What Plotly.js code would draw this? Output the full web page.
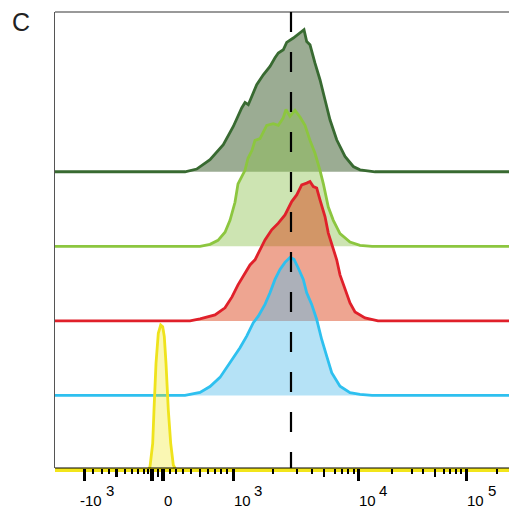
<!DOCTYPE html>
<html><head><meta charset="utf-8">
<script src="https://cdn.plot.ly/plotly-3.0.1.min.js"></script>
<style>html,body{margin:0;padding:0;background:#fff}</style>
</head><body><div id="chart" style="width:509px;height:515px"></div>
<script>
// x: position on the biexponential display axis (display units); y: % of mode
const darkGreenX = [0,130,141.7,155,168.3,178.3,186.7,190,193.3,201.7,208.3,215,220,223.3,228.3,231.7,238.3,243,249,251.7,255,260,265,270,275,281.7,290,298.3,305,320,454];
const darkGreenY = [0,0,1.9,8.5,19.0,31.9,44.9,48.8,47.2,61.3,68.3,74.2,80.3,83.6,85.9,91.1,94.2,96.5,100,91.7,89.4,76.5,64.8,50.7,36.6,22.5,10.8,3.7,1.4,0,0];

const lightGreenX = [0,145,155,163,170,175,180,183,190,193,197,200,205,211.7,218.3,223.3,228,231,235,240,245,250,255,260,265,268.3,273.3,278.3,285,295,305,317,454];
const lightGreenY = [0,0,1.4,4.2,9.9,18.3,31.0,44.0,53.5,62.0,67.6,74.6,75.8,85.2,86.4,85.2,90.1,96.3,91.5,95.8,91.1,85.2,74.6,65.5,53.5,44.2,27.7,18.3,8.9,3.0,0.7,0,0];

const redX = [0,135,145,160,170,177,183,190,195,200,205,210,216.7,223.3,230,236.7,241.7,246.7,251.7,255,258.3,261.7,265,270,273.3,278.3,281.7,285,290,295,300,310,323,454];
const redY = [0,0,1.4,4.2,9.2,16.9,25.4,33.1,39.4,43.0,50.0,57.0,64.1,68.8,74.6,84.0,88.7,95.8,97.0,98.1,94.6,93.5,85.2,73.5,61.8,50.0,43.0,32.4,21.8,12.7,6.3,2.1,0,0];

const blueX = [0,130,145,155,165,173,180,185,191.7,198.3,203.3,210,215,220,225,230,235,239,243,248.3,251.7,256.7,261.7,266.7,271.7,276.7,285,295,305,317,454];
const blueY = [0,0,2.1,6.3,12.7,21.1,28.9,33.6,41.8,51.2,55.8,64.1,72.3,81.7,88.7,93.7,97.2,95.8,90.1,81.7,72.3,64.1,53.5,39.4,27.7,16.0,6.5,1.9,0.7,0,0];

const yellowX = [0,93,95,97.7,99,101,103.3,105.7,107.7,109.3,111,113.3,115.7,118.3,121,454];
const yellowY = [0,0,2.3,18.8,42.3,75.1,96.3,102.1,100.9,93.9,75.1,42.3,18.8,3.5,0,0];

// axis ticks (display units)
const majorTicks = [29.5,97,108,178.3,303.3,411.7];
const mediumTicks = [61.5,103,145,269,380];
const minorTicks = [38,46.5,54,70,76.5,83,88.5,93,115,121,128,136,153,160,166,171.5,217.7,241.7,256.7,280,287,293,299,336.7,356.7,368.3,389,394.5,400.5,406,442];
// tick labels: base and exponent
const labelTicks = [29.5,108,178.3,303.3,411.7];
const labelBase = ['-10','0','10','10','10'];
const labelExp = ['3','','3','4','5'];
const referenceX = 236;

const laneGap = 52.5;
const series = [
  {x: darkGreenX, y: darkGreenY, lane: 4, line: '#386a31', fill: 'rgba(56,90,40,0.5)'},
  {x: lightGreenX, y: lightGreenY, lane: 3, line: '#8cc63f', fill: 'rgba(141,194,80,0.44)'},
  {x: redX, y: redY, lane: 2, line: '#e0202a', fill: 'rgba(218,56,11,0.45)'},
  {x: blueX, y: blueY, lane: 1, line: '#2ec0ef', fill: 'rgba(91,191,235,0.45)'},
  {x: yellowX, y: yellowY, lane: 0, line: '#efe31c', fill: 'rgba(240,230,20,0.32)'}
];

const traces = [];
series.forEach(s => {
  const base = s.lane * laneGap;
  traces.push({x: s.x, y: s.x.map(() => base), type: 'scatter', mode: 'lines',
    line: {width: 0, color: 'rgba(0,0,0,0)'}, hoverinfo: 'skip', showlegend: false});
  traces.push({x: s.x, y: s.y.map(v => v + base), type: 'scatter', mode: 'lines',
    fill: 'tonexty', fillcolor: s.fill, line: {color: s.line, width: 2.8}, showlegend: false});
});
// empty carrier so the medium-tick axis is drawn
traces.push({x: [null], y: [null], xaxis: 'x2', yaxis: 'y', type: 'scatter', mode: 'lines', showlegend: false, hoverinfo: 'skip'});

const font = 'Liberation Sans, Arial, sans-serif';
const tf = {family: font, size: 15, color: '#000'};
const annotations = [];
labelTicks.forEach((t, i) => {
  annotations.push({x: t, xref: 'x', y: -32/456, yref: 'paper', text: labelBase[i],
    xanchor: 'left', yanchor: 'middle', xshift: labelBase[i][0] === '-' ? -6.5 : -1.5,
    showarrow: false, font: tf});
  if (labelExp[i]) annotations.push({x: t, xref: 'x', y: -22/456, yref: 'paper', text: labelExp[i],
    xanchor: 'left', yanchor: 'middle', xshift: 19, showarrow: false, font: tf});
});

const layout = {
  width: 509, height: 515,
  margin: {l: 55, r: 0, t: 12, b: 47},
  paper_bgcolor: '#fff', plot_bgcolor: '#fff',
  showlegend: false,
  title: {text: 'C', font: {family: font, size: 25, color: '#222'},
    xref: 'container', yref: 'container', x: 21/509, xanchor: 'center', y: 1 - 22.5/515, yanchor: 'middle'},
  xaxis: {range: [0, 454], autorange: false, showgrid: false, zeroline: false, showline: false,
    ticks: 'outside', tickmode: 'array', tickvals: majorTicks, showticklabels: false,
    ticklen: 12, tickwidth: 3.5, tickcolor: '#000',
    minor: {tickmode: 'array', tickvals: minorTicks, ticks: 'outside', ticklen: 4.5, tickwidth: 2, tickcolor: '#000', showgrid: false}},
  xaxis2: {overlaying: 'x', anchor: 'y', side: 'bottom', range: [0, 454], autorange: false,
    showline: false, showgrid: false, zeroline: false, ticks: 'outside',
    tickmode: 'array', tickvals: mediumTicks, ticklen: 8, tickwidth: 2.5, tickcolor: '#000',
    showticklabels: false},
  yaxis: {range: [1.41, 322.5], autorange: false, showgrid: false, zeroline: false,
    showline: true, linecolor: '#555', linewidth: 1.5, ticks: '', showticklabels: false},
  annotations: annotations,
  shapes: [
    {type: 'line', xref: 'paper', yref: 'paper', x0: 0, x1: 1, y0: -2/456, y1: -2/456, layer: 'below',
      line: {color: '#f2e51a', width: 4}},
    {type: 'line', xref: 'paper', yref: 'paper', x0: 0, x1: 1, y0: 1, y1: 1, line: {color: '#777', width: 1.5}},
    {type: 'line', xref: 'paper', yref: 'paper', x0: 0, x1: 1, y0: 0, y1: 0, line: {color: '#000', width: 1}},
    {type: 'line', xref: 'x', yref: 'paper', x0: referenceX, x1: referenceX, y0: 1, y1: 0,
      line: {color: '#000', width: 2.2, dash: '20px,20px'}}
  ]
};

Plotly.newPlot('chart', traces, layout, {displayModeBar: false, staticPlot: true});
</script>
</body></html>
